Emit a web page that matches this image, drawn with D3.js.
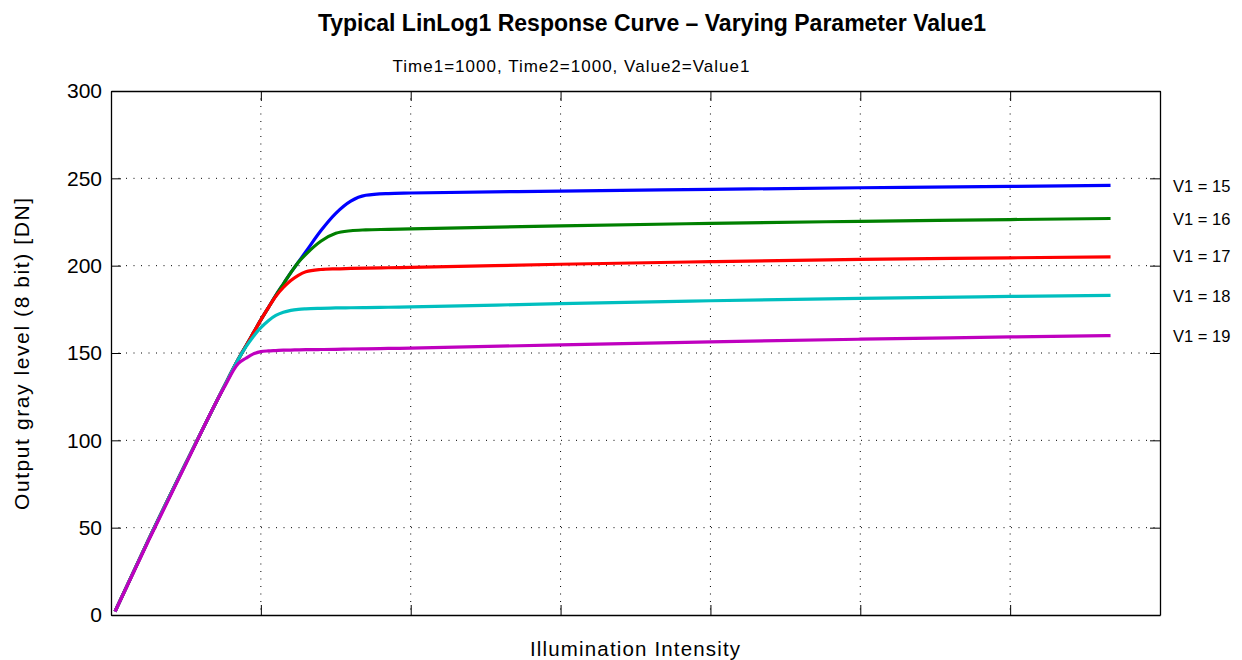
<!DOCTYPE html>
<html>
<head>
<meta charset="utf-8">
<script src="https://cdn.jsdelivr.net/npm/d3@7"></script>
<style>
body { margin: 0; background: #fff; }
text { font-family: "Liberation Sans", Arial, sans-serif; }
</style>
</head>
<body>
<div id="plot"></div>
<script>

var xVals = [2.7, 25, 50, 75, 85, 90, 95, 100, 105, 110, 115, 120, 125, 130, 140, 150, 160, 170, 185, 200, 300, 400, 500, 600, 667];

var v15 = [2, 43, 87, 130, 146.5, 154, 161.5, 169, 176, 183, 189.5, 196, 202, 208, 220, 230, 237, 240.3, 241.3, 241.6, 242.7, 243.7, 244.6, 245.4, 246];
var v16 = [2, 43, 87, 130, 146.5, 154, 161.5, 169, 176, 183, 189.5, 196, 202, 206.5, 214, 218.5, 220, 220.5, 220.8, 221.1, 222.8, 224.2, 225.4, 226.4, 227];
var v17 = [2, 43, 87, 130, 146.5, 154, 161.5, 169, 176, 182.5, 187.5, 191.5, 194.5, 196.5, 197.8, 198.2, 198.4, 198.6, 198.8, 199, 200.8, 202.3, 203.6, 204.5, 205];
var v18 = [2, 43, 87, 130, 146.5, 153.5, 159.5, 164.5, 168.5, 171.5, 173.3, 174.4, 175, 175.3, 175.6, 175.8, 175.9, 176, 176.2, 176.4, 178.3, 179.9, 181.3, 182.4, 183];
var v19 = [2, 42.5, 86.5, 129.5, 144, 147, 149.5, 150.8, 151.2, 151.4, 151.6, 151.7, 151.8, 151.9, 152, 152.1, 152.3, 152.4, 152.6, 152.8, 154.7, 156.4, 157.9, 159.2, 160];

var seriesNames = ["V1 = 15", "V1 = 16", "V1 = 17", "V1 = 18", "V1 = 19"];
var seriesColors = ["#0000ff", "#008000", "#ff0000", "#00bfbf", "#bf00bf"];
var yTicks = [0, 50, 100, 150, 200, 250, 300];
var xTicks = [0, 100, 200, 300, 400, 500, 600, 700];

var series = [v15, v16, v17, v18, v19];

var width = 1242, height = 660;
var pLeft = 111, pRight = 1160, pTop = 91, pBottom = 615;

var svg = d3.select("#plot")
	.append("svg")
	.attr("width", width)
	.attr("height", height);

var x = d3.scaleLinear().domain([0, 700]).range([pLeft, pRight]);
var y = d3.scaleLinear().domain([0, 300]).range([pBottom, pTop]);

// grid
svg.selectAll(".gx")
	.data(xTicks.slice(1, -1))
	.enter().append("line")
	.attr("x1", d => x(d)).attr("x2", d => x(d))
	.attr("y1", pTop).attr("y2", pBottom)
	.style("stroke", "#000")
	.style("stroke-width", 1)
	.style("stroke-dasharray", "1,6.5");

svg.selectAll(".gy")
	.data(yTicks.slice(1, -1))
	.enter().append("line")
	.attr("x1", pLeft).attr("x2", pRight)
	.attr("y1", d => y(d)).attr("y2", d => y(d))
	.style("stroke", "#000")
	.style("stroke-width", 1)
	.style("stroke-dasharray", "1,6.5");

// axes (box, inward ticks)
var axisLeft = d3.axisLeft(y).tickValues(yTicks).tickSizeInner(-10).tickSizeOuter(0).tickPadding(9);
var axisRight = d3.axisRight(y).tickValues(yTicks).tickSizeInner(-10).tickSizeOuter(0).tickFormat("");
var axisBottom = d3.axisBottom(x).tickValues(xTicks).tickSizeInner(-10).tickSizeOuter(0).tickFormat("");
var axisTop = d3.axisTop(x).tickValues(xTicks).tickSizeInner(-10).tickSizeOuter(0).tickFormat("");

var gl = svg.append("g").attr("transform", "translate(" + pLeft + ",0)").call(axisLeft);
svg.append("g").attr("transform", "translate(" + pRight + ",0)").call(axisRight);
svg.append("g").attr("transform", "translate(0," + pBottom + ")").call(axisBottom);
svg.append("g").attr("transform", "translate(0," + pTop + ")").call(axisTop);

svg.selectAll(".domain").style("stroke", "#000").style("stroke-width", 1.3);
svg.selectAll(".tick line").style("stroke", "#000").style("stroke-width", 1);
gl.selectAll("text")
	.style("font-family", "Liberation Sans, Arial, sans-serif")
	.style("font-size", "21px")
	.attr("fill", "#000");

// curves
var line = d3.line()
	.x((d, i) => x(xVals[i]))
	.y(d => y(d))
	.curve(d3.curveMonotoneX);

series.forEach(function(s, i){
	svg.append("path")
		.attr("d", line(s))
		.style("fill", "none")
		.style("stroke", seriesColors[i])
		.style("stroke-width", 3.2)
		.style("stroke-linejoin", "round");
});

// labels at right
var labelY = [185, 218, 255, 295, 335];
seriesNames.forEach(function(n, i){
	svg.append("text")
		.text(n)
		.attr("x", 1173)
		.attr("y", labelY[i] + 7)
		.style("font-size", "16.5px")
		.attr("fill", "#000");
});

svg.append("text")
	.text("Typical LinLog1 Response Curve \u2013 Varying Parameter Value1")
	.attr("x", 652).attr("y", 31)
	.attr("text-anchor", "middle")
	.style("font-size", "23px")
	.style("font-weight", "bold");

svg.append("text")
	.text("Time1=1000, Time2=1000, Value2=Value1")
	.attr("x", 571).attr("y", 72)
	.attr("text-anchor", "middle")
	.attr("textLength", 357)
	.attr("lengthAdjust", "spacing")
	.style("font-size", "17px");

svg.append("text")
	.text("Illumination Intensity")
	.attr("x", 635).attr("y", 656)
	.attr("text-anchor", "middle")
	.attr("textLength", 210)
	.attr("lengthAdjust", "spacing")
	.style("font-size", "20.5px");

svg.append("text")
	.text("Output gray level (8 bit) [DN]")
	.attr("transform", "translate(29,354) rotate(-90)")
	.attr("text-anchor", "middle")
	.attr("textLength", 312)
	.attr("lengthAdjust", "spacing")
	.style("font-size", "21px");

</script>
</body>
</html>
